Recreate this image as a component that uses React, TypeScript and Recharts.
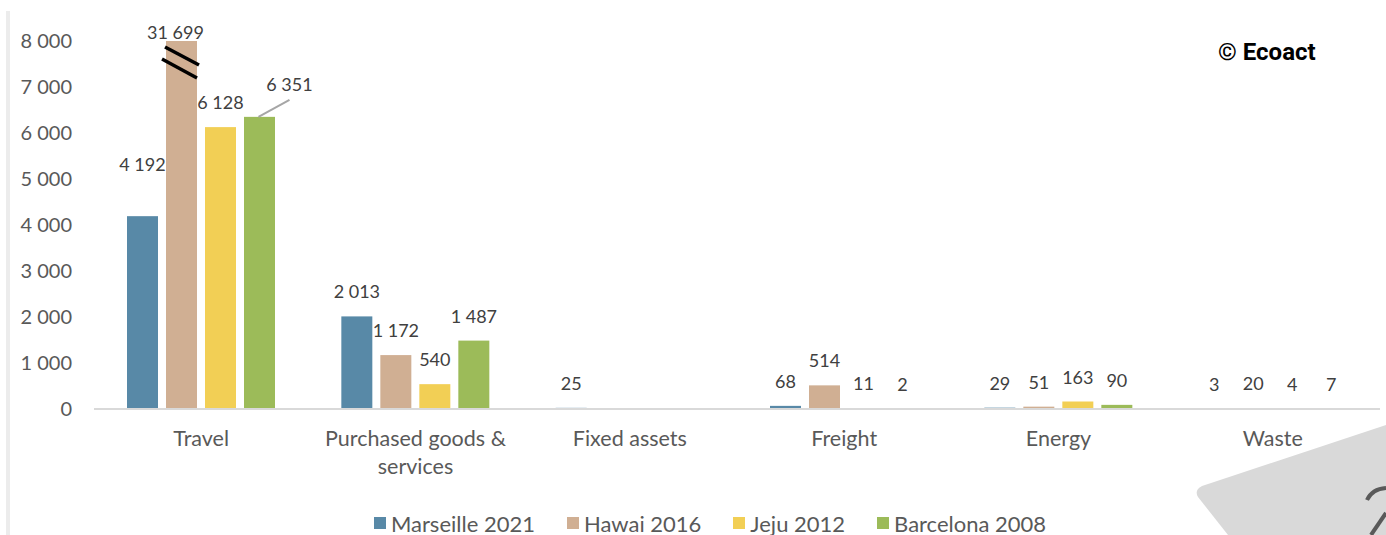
import React from 'react';
import { BarChart, Bar, XAxis, YAxis, LabelList, Legend } from 'recharts';

const categories = ['Travel', 'Purchased goods & services', 'Fixed assets', 'Freight', 'Energy', 'Waste'];
const marseille2021: (number | null)[] = [4192, 2013, 25, 68, 29, 3];
const hawai2016: (number | null)[] = [31699, 1172, null, 514, 51, 20];
const jeju2012: (number | null)[] = [6128, 540, null, 11, 163, 4];
const barcelona2008: (number | null)[] = [6351, 1487, null, 2, 90, 7];
const yTicks = [0, 1000, 2000, 3000, 4000, 5000, 6000, 7000, 8000];
const AXIS_MAX = 8000;

const FONT = 'Lato, "Open Sans", sans-serif';

const seriesDefs = [
  { key: 'marseille', name: 'Marseille 2021', values: marseille2021, color: '#5889a7' },
  { key: 'hawai', name: 'Hawai 2016', values: hawai2016, color: '#d0af93' },
  { key: 'jeju', name: 'Jeju 2012', values: jeju2012, color: '#f2cf55' },
  { key: 'barcelona', name: 'Barcelona 2008', values: barcelona2008, color: '#9cbb59' },
];

const data = categories.map((c, i) => {
  const row: any = { category: c };
  seriesDefs.forEach((s) => {
    const v = s.values[i];
    row[s.key + 'Raw'] = v;
    row[s.key] = v == null ? null : Math.min(v, AXIS_MAX);
  });
  return row;
});

const fmt = (n: any) => String(n).replace(/\B(?=(\d{3})+(?!\d))/g, ' ');

const wrapWords = (s: string, maxChars: number) => {
  const words = s.split(' ');
  const lines: string[] = [];
  let cur = '';
  words.forEach((w) => {
    const next = cur ? cur + ' ' + w : w;
    if (next.length > maxChars && cur) {
      lines.push(cur);
      cur = w;
    } else {
      cur = next;
    }
  });
  if (cur) lines.push(cur);
  return lines;
};

const LABEL_LIFT = 18;
const labelTweaks: Record<string, { dx?: number; lift?: number; leader?: boolean }> = {
  'marseille|Travel': { lift: 45 },
  'hawai|Travel': { dx: -6, lift: 2 },
  'barcelona|Travel': { dx: 30, lift: 26, leader: true },
};

const makeShape = (key: string) => (props: any) => {
  const { x, y, width, height, fill, payload } = props;
  if (x == null || width == null || height == null) return null;
  const raw = payload ? payload[key + 'Raw'] : null;
  return (
    <g>
      <rect x={x} y={y} width={width} height={Math.max(height, 0)} fill={fill} />
      {raw != null && raw > AXIS_MAX && (
        <g>
          <line x1={x - 1} y1={y + 6} x2={x + width + 2} y2={y + 24} stroke="#000" strokeWidth={3.5} />
          <line x1={x - 4} y1={y + 18} x2={x + width} y2={y + 37} stroke="#000" strokeWidth={3.5} />
        </g>
      )}
    </g>
  );
};

const makeLabel = (key: string) => (props: any) => {
  const { value, index } = props;
  if (value == null) return null;
  const vb = props.viewBox || props;
  const { x, y, width } = vb;
  if (x == null || y == null) return null;
  const cat = categories[index];
  const tweak = labelTweaks[`${key}|${cat}`] || {};
  const lift = tweak.lift ?? LABEL_LIFT;
  const dx = tweak.dx ?? 0;
  const cx = x + width / 2;
  return (
    <g>
      {tweak.leader && (
        <line x1={cx - 1} y1={y} x2={cx + dx} y2={y - lift + 9} stroke="#a6a6a6" strokeWidth={2} />
      )}
      <text x={cx + dx} y={y - lift} textAnchor="middle" fontSize={18} fill="#404040" fontFamily={FONT}>
        {fmt(value)}
      </text>
    </g>
  );
};

const CategoryTick = (props: any) => {
  const { x, y, payload } = props;
  const lines = wrapWords(String(payload.value), 18);
  return (
    <text x={x} y={y} textAnchor="middle" fontSize={21.5} fill="#595959" fontFamily={FONT}>
      {lines.map((l, i) => (
        <tspan key={i} x={x} dy={i === 0 ? '0.71em' : 28}>
          {l}
        </tspan>
      ))}
    </text>
  );
};

const LegendContent = () => (
  <div
    style={{
      display: 'flex',
      justifyContent: 'center',
      paddingLeft: 34,
      height: 24,
      alignItems: 'center',
      fontFamily: FONT,
      fontSize: 22,
      color: '#595959',
      whiteSpace: 'nowrap',
    }}
  >
    {seriesDefs.map((s) => (
      <div key={s.key} style={{ display: 'flex', alignItems: 'center', margin: '0 16px' }}>
        <span style={{ display: 'inline-block', width: 12, height: 12, background: s.color, marginRight: 5 }} />
        {s.name}
      </div>
    ))}
  </div>
);

export default function App() {
  return (
    <div style={{ position: 'absolute', left: 0, top: 0, width: 1386, height: 535, background: '#fff', overflow: 'hidden' }}>
      <svg width={1386} height={535} style={{ position: 'absolute', left: 0, top: 0 }}>
        <path d="M 1386 425 L 1202 486 Q 1194 490 1198 497 L 1228 535 L 1386 535 Z" fill="#d9d9d9" />
        <path d="M 1367 500 Q 1372 489 1386 488" fill="none" stroke="#595959" strokeWidth={4} />
        <path d="M 1386 513 L 1371 535" fill="none" stroke="#595959" strokeWidth={4} />
      </svg>
      <div style={{ position: 'absolute', left: 6, top: 11, width: 4, height: 524, background: '#ececec' }} />
      <div
        style={{
          position: 'absolute',
          left: 1218,
          top: 38,
          fontFamily: 'Roboto, sans-serif',
          fontWeight: 700,
          fontSize: 24,
          color: '#000',
          whiteSpace: 'nowrap',
        }}
      >
        © Ecoact
      </div>
      <div style={{ position: 'absolute', left: 0, top: 0 }}>
        <BarChart
          width={1386}
          height={535}
          data={data}
          barGap={8}
          margin={{ top: 41, right: 6, left: 24, bottom: 0 }}
        >
          <XAxis
            dataKey="category"
            axisLine={{ stroke: '#d9d9d9', strokeWidth: 2 }}
            tickLine={false}
            tickSize={0}
            tickMargin={22}
            height={102}
            interval={0}
            tick={<CategoryTick />}
          />
          <YAxis
            domain={[0, AXIS_MAX]}
            ticks={yTicks}
            tickFormatter={fmt}
            axisLine={false}
            tickLine={false}
            tickSize={0}
            tickMargin={22}
            width={70}
            tick={{ fontSize: 20, fill: '#595959', fontFamily: FONT }}
          />
          <Legend
            verticalAlign="bottom"
            content={() => <LegendContent />}
            wrapperStyle={{ left: 0, width: 1386, bottom: 0 }}
          />
          {seriesDefs.map((s) => (
            <Bar
              key={s.key}
              dataKey={s.key}
              name={s.name}
              fill={s.color}
              barSize={31}
              isAnimationActive={false}
              shape={makeShape(s.key)}
            >
              <LabelList dataKey={s.key + 'Raw'} content={makeLabel(s.key)} />
            </Bar>
          ))}
        </BarChart>
      </div>
    </div>
  );
}
